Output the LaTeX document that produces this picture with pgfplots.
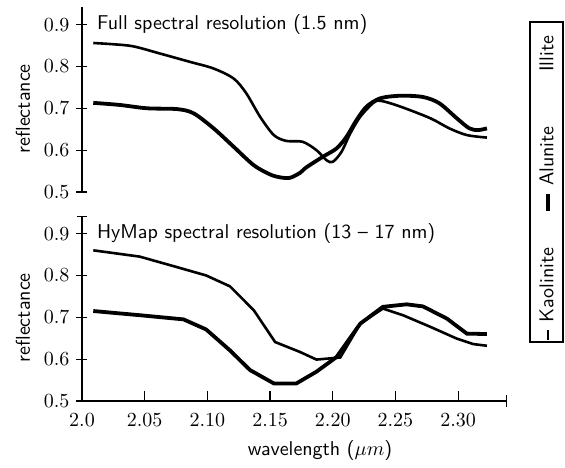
\documentclass[border=0pt]{standalone}
\usepackage{pgfplots}
\pgfplotsset{compat=1.18}
\usetikzlibrary{arrows.meta}

\pgfplotsset{
  spec/.style={
    scale only axis,
    width=212.5pt, height=92.5pt,
    xmin=2.0, xmax=2.339,
    ymin=0.5, ymax=0.942,
    clip=false,
    ytick={0.5,0.6,0.7,0.8,0.9},
    yticklabels={$0.5$,$0.6$,$0.7$,$0.8$,$0.9$},
    tick align=center,
    major tick length=5.5pt,
    tick style={black, line width=0.6pt},
    axis line style={line width=1pt},
    ylabel={\sffamily reflectance},
    ylabel style={at={(ticklabel cs:0.45)}},
    tick label style={font=\normalsize},
  },
  kao/.style={black, line width=1.3pt},
  alu/.style={black, line width=1.9pt},
}

\begin{document}
\begin{tikzpicture}
\useasboundingbox (-41pt,-33pt) rectangle (241.5pt,200.5pt);

% full resolution
\begin{axis}[spec, at={(0,104.5pt)},
  axis x line=none, axis y line=left,
  y axis line style={-},
  xtick=\empty]
\addplot[kao, smooth] coordinates {
 (2.009,0.856) (2.025,0.853) (2.041,0.848) (2.062,0.831) (2.086,0.811)
 (2.105,0.795) (2.121,0.771) (2.131,0.736) (2.142,0.680) (2.153,0.636)
 (2.163,0.622) (2.176,0.620) (2.187,0.600) (2.195,0.576) (2.200,0.572)
 (2.207,0.596) (2.214,0.640) (2.222,0.680) (2.232,0.712) (2.238,0.718)
 (2.254,0.704) (2.278,0.676) (2.293,0.652) (2.307,0.636) (2.323,0.630)
};
\addplot[alu, smooth] coordinates {
 (2.009,0.713) (2.030,0.708) (2.052,0.700) (2.076,0.698) (2.089,0.688)
 (2.105,0.652) (2.121,0.608) (2.137,0.564) (2.150,0.542) (2.158,0.535)
 (2.166,0.534) (2.174,0.546) (2.179,0.559) (2.192,0.584) (2.203,0.604)
 (2.211,0.632) (2.219,0.672) (2.227,0.704) (2.238,0.724) (2.254,0.730)
 (2.272,0.727) (2.285,0.712) (2.299,0.676) (2.309,0.652) (2.316,0.648)
 (2.323,0.652)
};
\node[anchor=west, font=\sffamily, xshift=4pt] at (axis cs:2.0,0.9)
  {Full spectral resolution (1.5 nm)};
\end{axis}

% HyMap resolution
\begin{axis}[spec, at={(0,0)},
  axis lines=left,
  y axis line style={-{Bar[width=5pt,line width=0.6pt]}},
  x axis line style={-{Bar[width=6pt,line width=0.6pt]}},
  major x tick style={yshift=2.2pt},
  xtick={2.0,2.05,2.10,2.15,2.20,2.25,2.30},
  xticklabels={$2.0$,$2.05$,$2.10$,$2.15$,$2.20$,$2.25$,$2.30$},
  xlabel={\sffamily wavelength ($\mu m$)},
  xlabel style={at={(ticklabel cs:0.56)}}]
\addplot[kao] coordinates {
 (2.009,0.860) (2.046,0.845) (2.078,0.818) (2.099,0.800) (2.118,0.774)
 (2.137,0.717) (2.154,0.641) (2.174,0.617) (2.187,0.599) (2.206,0.604)
 (2.222,0.685) (2.240,0.721) (2.256,0.705) (2.278,0.677) (2.299,0.649)
 (2.312,0.636) (2.323,0.632)
};
\addplot[alu] coordinates {
 (2.009,0.715) (2.046,0.705) (2.081,0.695) (2.099,0.671) (2.118,0.621)
 (2.134,0.574) (2.153,0.542) (2.171,0.542) (2.187,0.570) (2.203,0.605)
 (2.222,0.685) (2.240,0.725) (2.259,0.731) (2.272,0.726) (2.291,0.697)
 (2.307,0.661) (2.323,0.660)
};
\node[anchor=west, font=\sffamily, xshift=4pt] at (axis cs:2.0,0.9)
  {HyMap spectral resolution (13 -- 17 nm)};
\end{axis}

% legend, turned on its side
\node[draw, line width=0.6pt, rotate=90, inner sep=0pt,
      minimum width=160pt, minimum height=16.5pt, font=\sffamily]
  at (232.25pt,109.5pt)
  {\makebox[160pt][l]{\hspace{1pt}\raisebox{0.45ex}{\rule{5pt}{1.3pt}}\hspace{4pt}Kaolinite\hspace{18.4pt}\raisebox{0.4ex}{\rule{8.5pt}{1.9pt}}\hspace{4pt}Alunite\hspace{27.3pt}Illite}};
\end{tikzpicture}
\end{document}
